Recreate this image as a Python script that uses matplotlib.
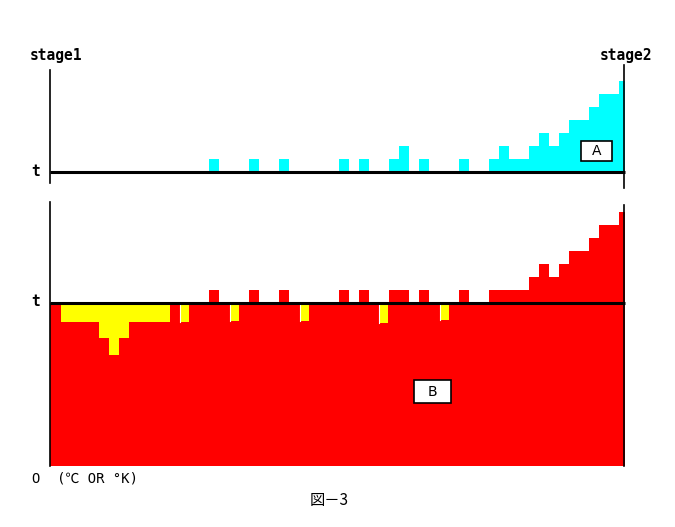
import numpy as np
import matplotlib.pyplot as plt
from matplotlib.patches import Rectangle

# columns (10 px steps) and step heights above t
cols_a = [16, 20, 23, 29, 31, 34, 35, 37, 41, 44, 45, 46, 47, 48, 49, 50, 51, 52, 53, 54, 55, 56, 57]
h_a = [1, 1, 1, 1, 1, 1, 2, 1, 1, 1, 2, 1, 1, 2, 3, 2, 3, 4, 4, 5, 6, 6, 7]
cols_b = [16, 20, 23, 29, 31, 34, 35, 37, 41, 44, 45, 46, 47, 48, 49, 50, 51, 52, 53, 54, 55, 56, 57]
h_b = [1, 1, 1, 1, 1, 1, 1, 1, 1, 1, 1, 1, 1, 2, 3, 2, 3, 4, 4, 5, 6, 6, 7]
# yellow pockets below t
yel_left = [1.2, 5.0, 6.0, 13.2, 18.2, 25.2, 33.1, 39.2]
yel_width = [10.9, 3.0, 1.0, 0.8, 0.8, 0.8, 0.8, 0.8]
yel_depth = [1.5, 2.75, 4.0, 1.5, 1.4, 1.4, 1.55, 1.35]
red_depth = 12.6
x0, x1 = 0.1, 57.6

W, H = 675, 527
fig = plt.figure(figsize=(W / 100, H / 100), dpi=100)

def make_ax(ptop, pbot, base):
    ax = fig.add_axes([30 / W, (H - pbot) / H, 630 / W, (pbot - ptop) / H])
    ax.set_xlim(-1.9, 61.1)
    ax.set_ylim((base - pbot) / 13, (base - ptop) / 13)
    ax.axis('off')
    return ax

# top panel (A)
ax1 = make_ax(60, 190, 172)
wa = np.clip(x1 - np.array(cols_a), 0, 1)
ax1.bar(cols_a, h_a, width=wa, align='edge', color='#00ffff', linewidth=0)
ax1.plot([x0, x0], [7.85, -0.85], color='black', lw=1.2)
ax1.plot([57.5, 57.5], [8.23, -1.23], color='black', lw=1.2)
ax1.plot([x0, x1], [0, 0], color='black', lw=2.2, solid_capstyle='butt')
ax1.add_patch(Rectangle((53.2, 0.85), 3.1, 1.53, facecolor='white', edgecolor='black', lw=1.2, zorder=3))
ax1.text(54.75, 1.6, 'A', ha='center', va='center', fontsize=10, family='DejaVu Sans', zorder=4)

# bottom panel (B)
ax2 = make_ax(195, 470, 302.5)
ax2.bar(x0, -red_depth, width=x1 - x0, align='edge', color='#ff0000', linewidth=0)
wb = np.clip(x1 - np.array(cols_b), 0, 1)
ax2.bar(cols_b, h_b, width=wb, align='edge', color='#ff0000', linewidth=0)
ax2.bar(yel_left, [-d for d in yel_depth], width=yel_width, align='edge', color='#ffff00', linewidth=0)
for xl, w, d in zip(yel_left[3:], yel_width[3:], yel_depth[3:]):
    ax2.plot([xl - 0.1, xl - 0.1], [0, -d], color='white', lw=0.8)
ax2.plot([x0, x0], [7.73, -red_depth], color='black', lw=1.2)
ax2.plot([57.5, 57.5], [7.5, -red_depth], color='black', lw=1.2)
ax2.plot([x0, x1], [0, 0], color='black', lw=2.2, solid_capstyle='butt')
ax2.add_patch(Rectangle((36.5, -7.73), 3.7, 1.77, facecolor='white', edgecolor='black', lw=1.2, zorder=3))
ax2.text(38.35, -6.85, 'B', ha='center', va='center', fontsize=10, family='DejaVu Sans', zorder=4)

def px(x, y):
    return x / W, 1 - y / H

mono = dict(family='DejaVu Sans Mono', fontweight='bold', fontsize=10.5)
fig.text(*px(30, 56), 'stage1', ha='left', va='center', **mono)
fig.text(*px(652, 56), 'stage2', ha='right', va='center', **mono)
fig.text(*px(31, 171), 't', ha='left', va='center', **mono)
fig.text(*px(31, 302), 't', ha='left', va='center', **mono)
fig.text(*px(32, 479), 'O  (℃ OR °K)', ha='left', va='center', fontsize=10,
         family=['DejaVu Sans Mono', 'Noto Sans CJK JP'])
fig.text(*px(329, 500), '図－3', ha='center', va='center', fontsize=11,
         family=['Noto Sans CJK JP', 'DejaVu Sans'])

fig.savefig('out.png', dpi=100)
